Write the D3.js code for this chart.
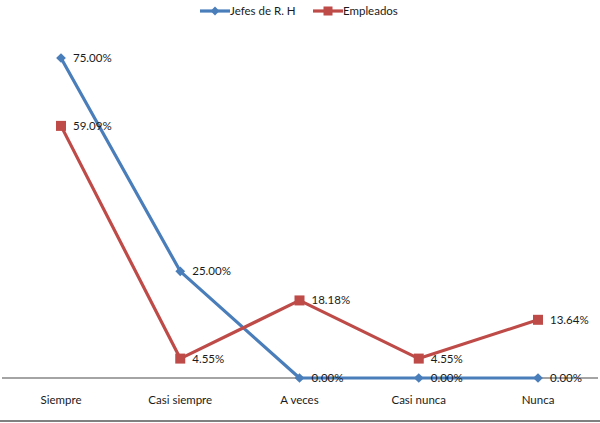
<!DOCTYPE html>
<html>
<head>
<meta charset="utf-8">
<script src="https://cdn.jsdelivr.net/npm/d3@7"></script>
<style>
  body { margin: 0; background: #fff; }
  svg { display: block; font-family: Lato, "Open Sans", sans-serif; }
</style>
</head>
<body>
<svg id="chart" width="600" height="423"></svg>
<script>
const categories = ["Siempre", "Casi siempre", "A veces", "Casi nunca", "Nunca"];
const jefes = [75.00, 25.00, 0.00, 0.00, 0.00];
const empleados = [59.09, 4.55, 18.18, 4.55, 13.64];
const seriesNames = ["Jefes de R. H", "Empleados"];
const colors = ["#4A7EBB", "#BE4B48"];

const svg = d3.select("#chart");
const W = 600;

const x = d3.scalePoint().domain(categories).range([61, 538]);
const y = d3.scaleLinear().domain([0, 75]).range([378, 58]);

// category axis line and bottom rule
svg.append("line").attr("x1", 2).attr("x2", 598).attr("y1", y(0)).attr("y2", y(0))
  .attr("stroke", "#868686").attr("stroke-width", 1.5);
svg.append("line").attr("x1", 0).attr("x2", W).attr("y1", 421).attr("y2", 421)
  .attr("stroke", "#808080").attr("stroke-width", 2);

// category labels
svg.selectAll("text.cat").data(categories).enter().append("text")
  .attr("class", "cat")
  .attr("x", d => x(d)).attr("y", 404)
  .attr("text-anchor", "middle").attr("font-size", 11.5).attr("fill", "#1a1a1a")
  .text(d => d);

const series = [jefes, empleados];
const line = d3.line().x((d, i) => x(categories[i])).y(d => y(d));

function marker(g, s, cx, cy, size) {
  if (s === 0) {
    g.append("path").attr("d", d3.symbol(d3.symbolDiamond2, size * size / 2)())
      .attr("transform", `translate(${cx},${cy})`).attr("fill", colors[s]);
  } else {
    const h = (size - 1) / 2;
    g.append("rect").attr("x", cx - h).attr("y", cy - h)
      .attr("width", 2 * h).attr("height", 2 * h).attr("fill", colors[s]);
  }
}

series.forEach((vals, s) => {
  const g = svg.append("g");
  g.append("path").datum(vals).attr("d", line)
    .attr("fill", "none").attr("stroke", colors[s]).attr("stroke-width", 3.2)
    .attr("stroke-linejoin", "round");
  vals.forEach((v, i) => {
    const cx = x(categories[i]), cy = y(v);
    marker(g, s, cx, cy, 11);
    g.append("text").attr("x", cx + 12).attr("y", cy + 4)
      .attr("font-size", 11.5).attr("fill", "#1a1a1a")
      .text(v.toFixed(2) + "%");
  });
});

// legend
const legend = [
  { x0: 200, x1: 230 },
  { x0: 313, x1: 343 }
];
legend.forEach((l, s) => {
  const ly = 11, mid = (l.x0 + l.x1) / 2;
  const g = svg.append("g");
  g.append("line").attr("x1", l.x0).attr("x2", l.x1).attr("y1", ly).attr("y2", ly)
    .attr("stroke", colors[s]).attr("stroke-width", 3.2);
  marker(g, s, mid, ly, 10);
  g.append("text").attr("x", l.x1).attr("y", ly + 4)
    .attr("font-size", 11.5).attr("fill", "#1a1a1a").text(seriesNames[s]);
});
</script>
</body>
</html>
